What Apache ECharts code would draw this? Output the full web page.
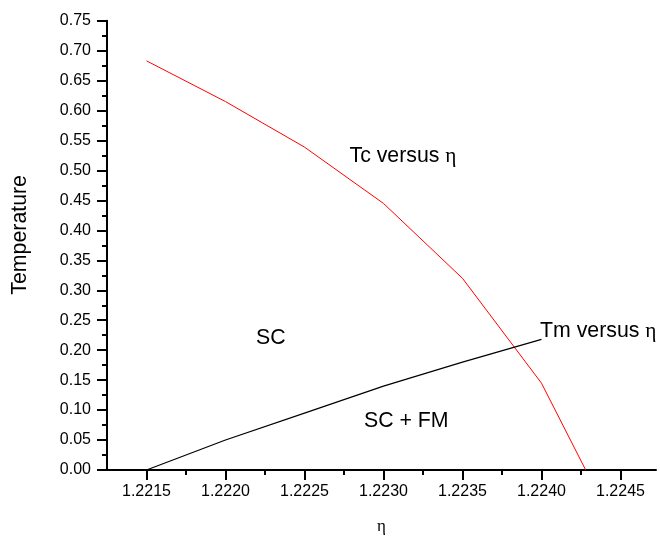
<!DOCTYPE html>
<html><head><meta charset="utf-8">
<script src="https://cdn.jsdelivr.net/npm/echarts@6/dist/echarts.min.js"></script>
<style>html,body{margin:0;padding:0;background:#fff}#c{width:660px;height:540px}</style>
</head><body><div id="c"></div>
<script>
// Tc versus eta (red)
const etaTc = [1.2215, 1.2220, 1.2225, 1.2230, 1.2235, 1.2240, 1.22428];
const tc    = [0.683, 0.615, 0.539, 0.445, 0.320, 0.145, 0.0];
// Tm versus eta (black)
const etaTm = [1.2215, 1.2220, 1.2225, 1.2230, 1.2235, 1.2240];
const tm    = [0.0, 0.050, 0.095, 0.140, 0.180, 0.218];
// axis ticks
const xMajor = [1.2215, 1.2220, 1.2225, 1.2230, 1.2235, 1.2240, 1.2245];
const xMinor = [1.22175, 1.22225, 1.22275, 1.22325, 1.22375, 1.22425];
const xMin = 1.22125, xMax = 1.224725;

const chart = echarts.init(document.getElementById('c'), null, {renderer:'canvas'});
const sans = '"Liberation Sans", Arial, sans-serif';
const serif = '"Liberation Serif", "Times New Roman", serif';
const axisLine = {lineStyle:{color:'#000', width:2}};
chart.setOption({
  animation:false,
  grid:{left:107, top:20.7, width:549, height:450},
  xAxis:[{
    type:'value', min:xMin, max:xMax, position:'bottom',
    name:'η', nameLocation:'middle', nameGap:48,
    nameTextStyle:{fontFamily:serif, fontSize:17, color:'#000'},
    axisLine:axisLine,
    axisTick:{length:10, customValues:xMajor, lineStyle:{color:'#000', width:2}},
    splitLine:{show:false},
    axisLabel:{customValues:xMajor, fontFamily:sans, fontSize:16, color:'#000', margin:14,
      formatter:v=>v.toFixed(4)}
  },{
    type:'value', min:xMin, max:xMax, position:'bottom', gridIndex:0,
    axisLine:{show:false},
    axisTick:{length:5, customValues:xMinor, lineStyle:{color:'#000', width:2}},
    axisLabel:{show:false}, splitLine:{show:false}
  }],
  yAxis:{type:'value', min:0, max:0.75, interval:0.05,
    name:'Temperature', nameLocation:'middle', nameGap:76,
    nameTextStyle:{fontFamily:sans, fontSize:21.3, color:'#000', padding:[0,0,0,21]},
    axisLine:axisLine,
    axisTick:{length:10, lineStyle:{color:'#000', width:2}},
    minorTick:{show:true, splitNumber:2, length:5, lineStyle:{color:'#000', width:2}},
    splitLine:{show:false},
    axisLabel:{fontFamily:sans, fontSize:16, color:'#000', margin:16, formatter:v=>v.toFixed(2)}},
  series:[
    {type:'line', xAxisIndex:0, data:etaTc.map((x,i)=>[x,tc[i]]), symbol:'none', lineStyle:{color:'#ff0000', width:1}},
    {type:'line', xAxisIndex:0, data:etaTm.map((x,i)=>[x,tm[i]]), symbol:'none', lineStyle:{color:'#000', width:1.2}}
  ],
  graphic:[
    {type:'text', x:349.5, y:145.6, style:{text:'{a|Tc versus }{b|η}', verticalAlign:'top', align:'left',
      rich:{a:{font:'21.3px '+sans, fill:'#000'}, b:{font:'21.3px '+serif, fill:'#000'}}}},
    {type:'text', x:540, y:321, style:{text:'{a|Tm versus }{b|η}', verticalAlign:'top', align:'left',
      rich:{a:{font:'21.3px '+sans, fill:'#000'}, b:{font:'21.3px '+serif, fill:'#000'}}}},
    {type:'text', x:256, y:327.5, style:{text:'SC', font:'21.3px '+sans, fill:'#000', verticalAlign:'top'}},
    {type:'text', x:364, y:410.3, style:{text:'SC + FM', font:'21.3px '+sans, fill:'#000', verticalAlign:'top'}}
  ]
});
</script></body></html>
